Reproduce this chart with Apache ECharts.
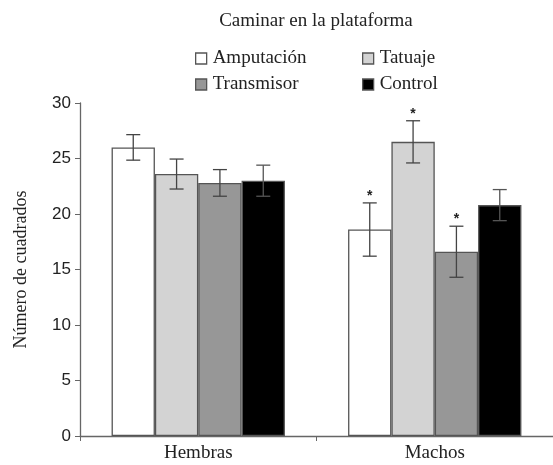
<!DOCTYPE html>
<html><head><meta charset="utf-8">
<script src="https://cdn.jsdelivr.net/npm/echarts@6/dist/echarts.min.js"></script>
<style>html,body{margin:0;padding:0;background:#fff}#c{width:553px;height:465px}</style>
</head><body><div id="c"></div>
<script>
const categories = ['Hembras', 'Machos'];
const seriesNames = ['Amputación', 'Tatuaje', 'Transmisor', 'Control'];
const amputacion = [26.0, 18.6];
const tatuaje = [23.6, 26.5];
const transmisor = [22.8, 16.6];
const control = [23.0, 20.8];
const errAmputacion = [1.15, 2.4];
const errTatuaje = [1.35, 1.9];
const errTransmisor = [1.2, 2.3];
const errControl = [1.4, 1.4];
const sigAmputacion = [false, true];
const sigTatuaje = [false, true];
const sigTransmisor = [false, true];
const sigControl = [false, false];
const yTicks = [0, 5, 10, 15, 20, 25, 30];

const values = [amputacion, tatuaje, transmisor, control];
const errs = [errAmputacion, errTatuaje, errTransmisor, errControl];
const sigs = [sigAmputacion, sigTatuaje, sigTransmisor, sigControl];
const colors = ['#ffffff', '#d3d3d3', '#979797', '#000000'];
const catGap = 0.267;
const serif = '"Liberation Serif", "DejaVu Serif", serif';
const sans = '"Liberation Sans", Arial, sans-serif';

const chart = echarts.init(document.getElementById('c'), null, {renderer: 'canvas'});

const barSeries = seriesNames.map((n, i) => ({
  name: n, type: 'bar', data: values[i], barGap: '0%', barCategoryGap: (catGap * 100) + '%',
  itemStyle: {color: colors[i], borderColor: '#555', borderWidth: 1.3},
  emphasis: {disabled: true}
}));

const errData = [];
for (let s = 0; s < 4; s++) for (let c = 0; c < categories.length; c++) {
  errData.push([c, values[s][c], errs[s][c], s, sigs[s][c] ? 1 : 0]);
}

const errSeries = {
  type: 'custom', silent: true, z: 10,
  data: errData,
  encode: {x: 0, y: 1},
  renderItem: function (params, api) {
    const c = api.value(0), v = api.value(1), e = api.value(2), s = api.value(3), sig = api.value(4);
    const band = api.size([1, 0])[0];
    const bw = band * (1 - catGap) / 4;
    const center = api.coord([c, v]);
    const x = center[0] - 2 * bw + bw * (s + 0.5);
    const yTop = api.coord([c, v + e])[1];
    const yBot = api.coord([c, v - e])[1];
    const cap = 7;
    const st = {stroke: s === 3 ? '#555' : '#444', lineWidth: 1.3};
    const children = [
      {type: 'line', shape: {x1: x, y1: yTop, x2: x, y2: yBot}, style: st},
      {type: 'line', shape: {x1: x - cap, y1: yTop, x2: x + cap, y2: yTop}, style: st},
      {type: 'line', shape: {x1: x - cap, y1: yBot, x2: x + cap, y2: yBot}, style: st}
    ];
    if (sig) {
      children.push({type: 'text', style: {text: '*', x: x, y: yTop - 7, fill: '#222', font: 'bold 14px ' + sans, align: 'center', verticalAlign: 'middle'}});
    }
    return {type: 'group', children: children};
  }
};

const legendCommon = {orient: 'vertical', top: 49, itemGap: 7, padding: 0, icon: 'rect',
  itemWidth: 11, itemHeight: 11, itemStyle: {borderColor: '#555', borderWidth: 1.3},
  textStyle: {fontFamily: serif, fontSize: 19, color: '#222', padding: [0, 0, 0, 1]}, selectedMode: false};

chart.setOption({
  animation: false,
  title: {text: 'Caminar en la plataforma', left: 316, textAlign: 'center', top: 12, padding: 0,
    textStyle: {fontFamily: serif, fontSize: 19, fontWeight: 'normal', color: '#222'}},
  legend: [
    Object.assign({data: ['Amputación', 'Transmisor'], left: 195}, legendCommon),
    Object.assign({data: ['Tatuaje', 'Control'], left: 362}, legendCommon)
  ],
  grid: {left: 80, top: 103, height: 333, width: 480, containLabel: false},
  xAxis: {type: 'category', data: categories,
    axisLine: {lineStyle: {color: '#666', width: 1.3}},
    axisTick: {show: true, length: 5, lineStyle: {color: '#666'}},
    axisLabel: {fontFamily: serif, fontSize: 19, color: '#222', margin: 8}},
  yAxis: {type: 'value', min: 0, max: 30, interval: 5,
    name: 'Número de cuadrados', nameLocation: 'middle', nameGap: 50,
    nameTextStyle: {fontFamily: serif, fontSize: 18, color: '#222'},
    axisLine: {show: true, lineStyle: {color: '#666', width: 1.3}},
    axisTick: {show: true, length: 5, lineStyle: {color: '#666'}},
    splitLine: {show: false},
    axisLabel: {fontFamily: sans, fontSize: 17, color: '#222', margin: 9,
      formatter: v => yTicks.includes(v) ? String(v) : ''}},
  series: barSeries.concat([errSeries])
});
</script></body></html>
